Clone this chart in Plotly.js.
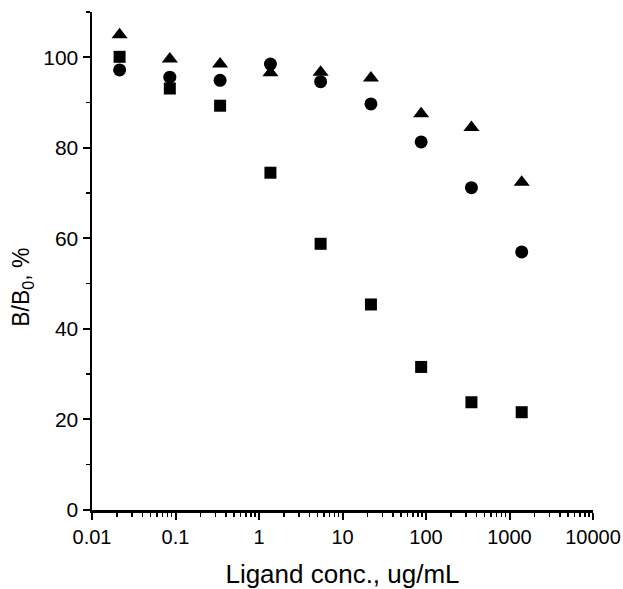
<!DOCTYPE html>
<html>
<head>
<meta charset="utf-8">
<script src="https://cdn.plot.ly/plotly-3.0.1.min.js"></script>
<style>html,body{margin:0;padding:0;background:#fff;}</style>
</head>
<body>
<div id="chart" style="width:623px;height:589px;"></div>
<script>
const conc = [0.0214, 0.0855, 0.342, 1.37, 5.47, 21.9, 87.5, 350, 1400];
const triangle = [105.0, 99.6, 98.5, 96.6, 96.7, 95.4, 87.5, 84.5, 72.4];
const circle = [97.2, 95.6, 94.9, 98.5, 94.6, 89.7, 81.3, 71.2, 57.0];
const square = [100.1, 93.1, 89.3, 74.5, 58.8, 45.4, 31.6, 23.8, 21.6];
const xTicks = [0.01, 0.1, 1, 10, 100, 1000, 10000];
const xTickText = ["0.01", "0.1", "1", "10", "100", "1000", "10000"];
const yTicks = [0, 20, 40, 60, 80, 100];

const font = "Liberation Sans, Arial, sans-serif";
function tr(y, sym, size) {
  return {x: conc, y: y, type: 'scatter', mode: 'markers',
    marker: {symbol: sym, size: size, color: '#000'}, showlegend: false, cliponaxis: false};
}
const data = [
  tr(square, 'square', 12),
  tr(circle, 'circle', 13),
  tr(triangle, 'triangle-up', 14)
];
const layout = {
  width: 623, height: 589,
  margin: {l: 92, r: 30, t: 12, b: 79},
  paper_bgcolor: '#fff', plot_bgcolor: '#fff',
  font: {family: font, color: '#000', size: 18},
  xaxis: {
    type: 'log', range: [-2, 4],
    tickvals: xTicks, ticktext: xTickText,
    ticks: 'outside', ticklen: 7, tickwidth: 2, tickcolor: '#000',
    showline: true, linewidth: 2.5, linecolor: '#000',
    showgrid: false, zeroline: false,
    minor: {ticks: 'outside', ticklen: 4, tickwidth: 1.5, tickcolor: '#000', dtick: 'D1', showgrid: false},
    tickfont: {size: 20, color: '#000'},
    title: {text: 'Ligand conc., ug/mL', font: {size: 26, color: '#000'}, standoff: 19}
  },
  yaxis: {
    range: [0, 110],
    tickvals: yTicks,
    ticks: 'outside', ticklen: 7, tickwidth: 2, tickcolor: '#000',
    showline: true, linewidth: 2.5, linecolor: '#000',
    showgrid: false, zeroline: false,
    minor: {ticks: 'outside', ticklen: 4, tickwidth: 1.5, tickcolor: '#000', dtick: 10, showgrid: false},
    tickfont: {size: 21, color: '#000'}
  },
  annotations: [{
    text: 'B/B<sub>0</sub>, %', textangle: -90,
    xref: 'paper', yref: 'paper', x: -0.138, y: 0.448,
    xanchor: 'center', yanchor: 'middle', showarrow: false,
    font: {size: 23, color: '#000000', family: font}
  }]
};
Plotly.newPlot('chart', data, layout, {staticPlot: true});
</script>
</body>
</html>
